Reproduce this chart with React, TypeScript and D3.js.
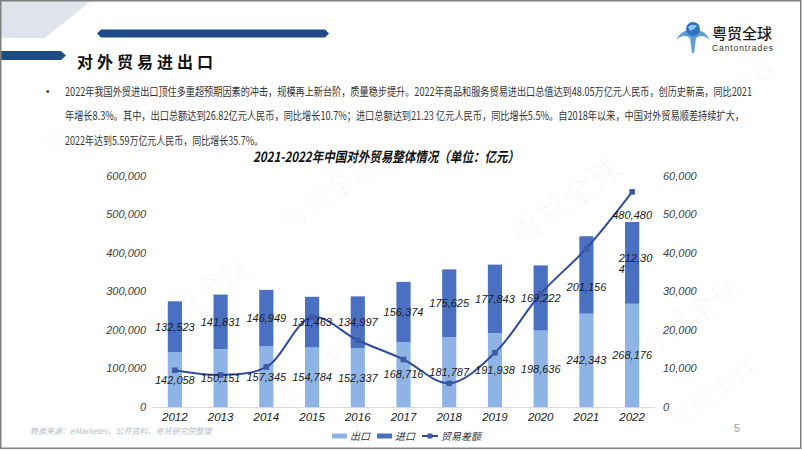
import React from "react";
import * as d3 from "d3";

const years = ["2012", "2013", "2014", "2015", "2016", "2017", "2018", "2019", "2020", "2021", "2022"];
const exportsV = [142058, 150151, 157345, 154784, 152337, 168716, 181787, 191938, 198636, 242343, 268176];
const importsV = [132523, 141831, 146949, 131463, 134997, 156374, 175625, 177843, 169222, 201156, 212304];
const balanceV = [9535, 8320, 10396, 23321, 17340, 12342, 6162, 14095, 29414, 41187, 55872];
const leftTicks = [0, 100000, 200000, 300000, 400000, 500000, 600000];
const rightTicks = [0, 10000, 20000, 30000, 40000, 50000, 60000];
const legendItems = ["出口", "进口", "贸易差额"];
const bulletLines = [
  "2022年我国外贸进出口顶住多重超预期因素的冲击，规模再上新台阶，质量稳步提升。2022年商品和服务贸易进出口总值达到48.05万亿元人民币，创历史新高，同比2021",
  "年增长8.3%。其中，出口总额达到26.82亿元人民币，同比增长10.7%；进口总额达到21.23  亿元人民币，同比增长5.5%。自2018年以来，中国对外贸易顺差持续扩大，",
  "2022年达到5.59万亿元人民币，同比增长35.7%。",
];
const bulletWidths = [687, 679, 198];
const chartTitle = "2021-2022年中国对外贸易整体情况（单位：亿元）";
const sourceText = "数据来源：eMarketer、公开资料、粤贸研究院整理";

const W = 802;
const H = 451;
const CJK = "'Noto Sans CJK SC', 'Noto Sans', sans-serif";
const NUM = "'Liberation Sans', Arial, 'Noto Sans CJK SC', sans-serif";
const C_EXP = "#8eb4e6";
const C_IMP = "#4a70c2";
const C_LINE = "#2f4c9e";
const NAVY = "#1e4a8a";
const SX = 0.77;

const fmt = d3.format(",");

const watermarks: [number, number, number][] = [
  [100, 120, 30],
  [330, 195, 28],
  [567, 203, 32],
  [200, 300, 30],
  [690, 320, 30],
  [300, 385, 26],
  [520, 385, 26],
  [735, 95, 26],
  [715, 395, 26],
];

export default function App() {
  const x = d3
    .scaleBand<string>()
    .domain(years)
    .range([152, 655])
    .paddingInner(0.69)
    .paddingOuter(0.345);
  const yL = d3.scaleLinear().domain([0, 600000]).range([407, 176]);
  const yR = d3.scaleLinear().domain([0, 60000]).range([407, 176]);
  const bw = x.bandwidth();
  const cx = (y: string) => (x(y) as number) + bw / 2;

  const line = d3
    .line<number>()
    .x((_, i) => cx(years[i]))
    .y((d) => yR(d))
    .curve(d3.curveCatmullRom.alpha(0.5));

  const last = years.length - 1;
  const total = exportsV[last] + importsV[last];

  const legX = 332;
  const legY = 436;

  return (
    <svg
      width={W}
      height={H}
      style={{ position: "absolute", left: 0, top: 0, background: "#fff" }}
      xmlns="http://www.w3.org/2000/svg"
    >
      <rect x={0} y={0} width={W} height={H} fill="#fff" />
      {/* watermarks */}
      {watermarks.map(([wx, wy, fs], i) => (
        <text
          key={"wm" + i}
          x={wx}
          y={wy}
          transform={`rotate(-35 ${wx} ${wy})`}
          textAnchor="middle"
          dominantBaseline="middle"
          fontFamily={CJK}
          fontSize={fs}
          fill="#000"
          fillOpacity={0.028}
        >
          粤贸全球
        </text>
      ))}

      {/* header decorations */}
      <polygon points="0,0 92,0 45,38 0,38" fill="#dfe4ec" />
      <polygon points="101,29.5 325,29.5 329,33.5 325,37.5 101,37.5 97,33.5" fill={NAVY} />
      <polygon points="0,51 61,51 66,55.5 61,60 0,60" fill={NAVY} />
      <text
        x={77}
        y={67.5}
        fontFamily={CJK}
        fontWeight={700}
        fontSize={16}
        letterSpacing={4}
        fill="#111"
      >
        对外贸易进出口
      </text>

      {/* logo */}
      <g>
        <path d="M676,40 Q684,26 693,33 Q702,26 710,40 Q702,33 696,38 L694,53 L692,53 L690,38 Q684,33 676,40 Z" fill="#5b9fd8" />
        <circle cx={693} cy={29} r={7} fill="#2f72bd" />
        <path d="M688,27 Q692,23 697,26 Q694,30 690,31 Z" fill="#8cc4ee" />
        <text x={712} y={39} fontFamily={CJK} fontSize={15} fontWeight={500} fill="#1a1a1a">
          粤贸全球
        </text>
        <text x={712} y={50.5} fontFamily={NUM} fontSize={8.5} letterSpacing={0.9} fill="#333">
          Cantontrades
        </text>
      </g>

      {/* bullet text */}
      <text x={46} y={95} fontFamily={NUM} fontSize={10} fill="#333">
        •
      </text>
      {bulletLines.map((t, i) => (
        <g key={"bl" + i} transform={`translate(65,${95.5 + i * 24.5}) scale(${SX},1)`}>
          <text
            x={0}
            y={0}
            fontFamily={CJK}
            fontSize={11.5}
            fill="#333"
            textLength={bulletWidths[i] / SX}
            lengthAdjust="spacingAndGlyphs"
          >
            {t}
          </text>
        </g>
      ))}

      {/* chart title */}
      <text
        x={253}
        y={162}
        fontFamily={CJK}
        fontSize={14}
        fontWeight={700}
        fontStyle="italic"
        fill="#111"
        textLength={266}
        lengthAdjust="spacingAndGlyphs"
      >
        {chartTitle}
      </text>

      {/* left axis labels */}
      {leftTicks.map((t) => (
        <text
          key={"l" + t}
          x={146}
          y={yL(t)}
          dy="0.35em"
          textAnchor="end"
          fontFamily={NUM}
          fontStyle="italic"
          fontSize={11}
          fill="#404040"
        >
          {fmt(t)}
        </text>
      ))}
      {/* right axis labels */}
      {rightTicks.map((t) => (
        <text
          key={"r" + t}
          x={663}
          y={yR(t)}
          dy="0.35em"
          textAnchor="start"
          fontFamily={NUM}
          fontStyle="italic"
          fontSize={11}
          fill="#404040"
        >
          {fmt(t)}
        </text>
      ))}

      {/* bars */}
      {years.map((yr, i) => (
        <g key={"b" + yr}>
          <rect
            x={x(yr)}
            width={bw}
            y={yL(exportsV[i])}
            height={yL(0) - yL(exportsV[i])}
            fill={C_EXP}
          />
          <rect
            x={x(yr)}
            width={bw}
            y={yL(exportsV[i] + importsV[i])}
            height={yL(exportsV[i]) - yL(exportsV[i] + importsV[i])}
            fill={C_IMP}
          />
        </g>
      ))}

      {/* x axis */}
      <line x1={152} x2={655} y1={407.5} y2={407.5} stroke="#d9d9d9" strokeWidth={1} />
      {years.map((yr) => (
        <text
          key={"x" + yr}
          x={cx(yr)}
          y={421}
          textAnchor="middle"
          fontFamily={NUM}
          fontStyle="italic"
          fontSize={11.5}
          fill="#222"
        >
          {yr}
        </text>
      ))}

      {/* trade balance line */}
      <path d={line(balanceV) || ""} fill="none" stroke={C_LINE} strokeWidth={2} />
      {balanceV.map((v, i) => (
        <rect
          key={"m" + i}
          x={cx(years[i]) - 2.8}
          y={yR(v) - 2.8}
          width={5.6}
          height={5.6}
          fill="#3d5aa6"
        />
      ))}

      {/* export labels */}
      {years.map((yr, i) => (
        <text
          key={"el" + yr}
          x={cx(yr)}
          y={yL(exportsV[i] / 2)}
          dy="0.35em"
          textAnchor="middle"
          fontFamily={NUM}
          fontStyle="italic"
          fontSize={11}
          fill="#1a1a1a"
        >
          {fmt(exportsV[i])}
        </text>
      ))}
      {/* import labels */}
      {years.map((yr, i) => {
        const yc = yL(exportsV[i] + importsV[i] / 2) + (i === last - 1 ? 12 : 0);
        const s = fmt(importsV[i]);
        if (i === last) {
          return (
            <text
              key={"il" + yr}
              fontFamily={NUM}
              fontStyle="italic"
              fontSize={11}
              fill="#1a1a1a"
            >
              <tspan x={cx(yr) - 13.5} y={yc - 5} dy="0.35em">
                {s.slice(0, 6)}
              </tspan>
              <tspan x={cx(yr) - 13.5} y={yc + 6} dy="0.35em">
                {s.slice(6)}
              </tspan>
            </text>
          );
        }
        return (
          <text
            key={"il" + yr}
            x={cx(yr)}
            y={yc}
            dy="0.35em"
            textAnchor="middle"
            fontFamily={NUM}
            fontStyle="italic"
            fontSize={11}
            fill="#1a1a1a"
          >
            {s}
          </text>
        );
      })}
      {/* total label */}
      <text
        x={cx(years[last])}
        y={yL(total) - 7}
        dy="0.35em"
        textAnchor="middle"
        fontFamily={NUM}
        fontStyle="italic"
        fontSize={11}
        fill="#1a1a1a"
      >
        {fmt(total)}
      </text>

      {/* legend */}
      <g fontFamily={CJK} fontStyle="italic" fontSize={10} fill="#333">
        <rect x={legX} y={legY - 2.5} width={15} height={5} fill={C_EXP} />
        <text x={legX + 18} y={legY} dy="0.35em">
          {legendItems[0]}
        </text>
        <rect x={legX + 45} y={legY - 2.5} width={15} height={5} fill={C_IMP} />
        <text x={legX + 63} y={legY} dy="0.35em">
          {legendItems[1]}
        </text>
        <line x1={legX + 90} x2={legX + 106} y1={legY} y2={legY} stroke={C_LINE} strokeWidth={2} />
        <rect x={legX + 95.5} y={legY - 2.5} width={5} height={5} fill="#3d5aa6" />
        <text x={legX + 109} y={legY} dy="0.35em">
          {legendItems[2]}
        </text>
      </g>

      {/* footer */}
      <text
        x={30}
        y={434}
        fontFamily={CJK}
        fontStyle="italic"
        fontSize={8}
        fill="#b8bcc4"
      >
        {sourceText}
      </text>
      <text x={737} y={432} textAnchor="middle" fontFamily={NUM} fontSize={11} fill="#9a9a9a">
        5
      </text>

      {/* frame */}
      <rect x={0.75} y={0.75} width={800} height={447.5} fill="none" stroke="#808080" strokeWidth={1.5} />
    </svg>
  );
}
